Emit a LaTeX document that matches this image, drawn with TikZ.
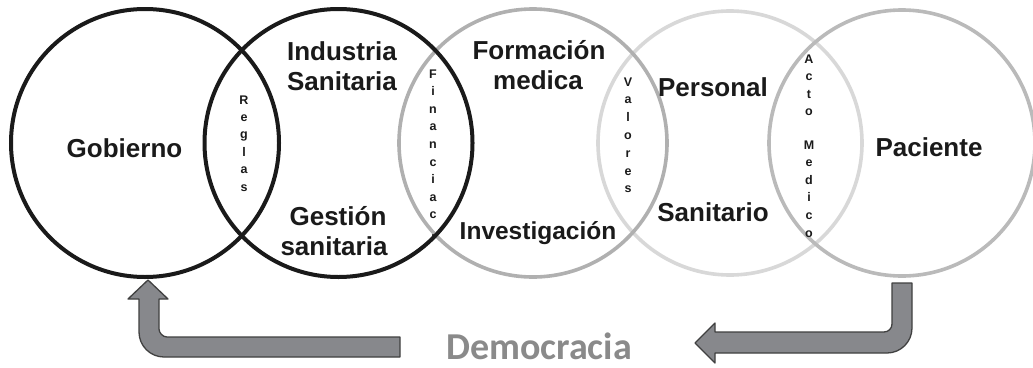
\documentclass[tikz,border=0pt]{standalone}
\usepackage{fontspec}
\setmainfont{Liberation Sans}
\newfontfamily\carlito{Carlito}
\definecolor{cblack}{HTML}{1A1A1A}
\definecolor{cgrayA}{HTML}{B0B0B0}
\definecolor{cgrayB}{HTML}{D8D8D8}
\definecolor{cgrayC}{HTML}{BABABA}
\definecolor{arrfill}{HTML}{87888C}
\definecolor{arrline}{HTML}{404040}
\definecolor{demo}{HTML}{8A8A8A}
\begin{document}
\begin{tikzpicture}[x=1pt,y=-1pt,
  bigtxt/.style={font=\bfseries\fontsize{26}{30}\selectfont, text=cblack, anchor=base, inner sep=0pt},
  vletter/.style={font=\bfseries\fontsize{12.5}{14}\selectfont, text=cblack, anchor=base, inner sep=0pt},
  ring/.style={line width=3.6pt},
  bigarrow/.style={fill=arrfill, draw=arrline, line width=1.3pt, line join=round}]
\useasboundingbox (0,0) rectangle (1033,367);
\fill[white] (0,0) rectangle (1033,367);
% circles
\draw[ring, cgrayB] (730,143) circle[radius=132];
\draw[ring, cgrayA] (533,143) circle[radius=134];
\draw[ring, cgrayC] (902,143) circle[radius=133];
\draw[ring, cblack, line width=4pt] (338.5,143) circle[radius=134];
\draw[ring, cblack, line width=4pt] (145,143) circle[radius=134];
% main labels
\node[bigtxt] (gob) at (124.5,157) {Gobierno};
\node[bigtxt] (ind) at (342,60) {Industria};
\node[bigtxt] (san) at (342,90) {Sanitaria};
\node[bigtxt] (ges) at (338,225) {Gestión};
\node[bigtxt] (gsan) at (334,255) {sanitaria};
\node[bigtxt] (form) at (539,59) {Formación};
\node[bigtxt] (med) at (538,89) {medica};
\node[bigtxt, font=\bfseries\fontsize{24.5}{30}\selectfont] (inv) at (538,239) {Investigación};
\node[bigtxt] (pers) at (713,96) {Personal};
\node[bigtxt] (sant) at (713,221) {Sanitario};
\node[bigtxt] (pac) at (929,156) {Paciente};
% vertical letters
\foreach \ch [count=\i from 0] in {R,e,g,l,a,s}
  \node[vletter] (reg\i) at (244,{104+17.4*\i}) {\ch};
\foreach \ch [count=\i from 0] in {F,i,n,a,n,c,i,a,c,.}
  \node[vletter] (fin\i) at (433,{78+17.6*\i}) {\ch};
\foreach \ch [count=\i from 0] in {V,a,l,o,r,e,s}
  \node[vletter] (val\i) at (628,{86+17.8*\i}) {\ch};
\foreach \ch [count=\i from 0] in {A,c,t,o}
  \node[vletter] (act\i) at (809,{63+17.5*\i}) {\ch};
\foreach \ch [count=\i from 0] in {M,e,d,i,c,o}
  \node[vletter] (medi\i) at (809,{149+17.6*\i}) {\ch};
% Democracia
\node[font=\carlito\bfseries\fontsize{38}{44}\selectfont, text=demo, anchor=base, inner sep=0pt] (dem) at (539,359) {Democracia};
% left arrow (up into Gobierno)
\draw[bigarrow] (400,337) -- (167,337) .. controls (162.6,337) and (159,332.6) .. (159,329)
  -- (159,299) -- (168,299) -- (148,280) -- (128,299) -- (139,299) -- (139,332)
  .. controls (139,345.8) and (150.2,357) .. (164,357) -- (400,357) -- cycle;
% right arrow (from Paciente)
\draw[bigarrow] (892,283) -- (912,283) -- (912,328) .. controls (912,341.8) and (900.8,353) .. (887,353)
  -- (715,353) -- (715,363) -- (695,343) -- (715,323) -- (715,332) -- (884,332)
  .. controls (888.4,332) and (892,328.4) .. (892,324) -- cycle;
\end{tikzpicture}
\end{document}
